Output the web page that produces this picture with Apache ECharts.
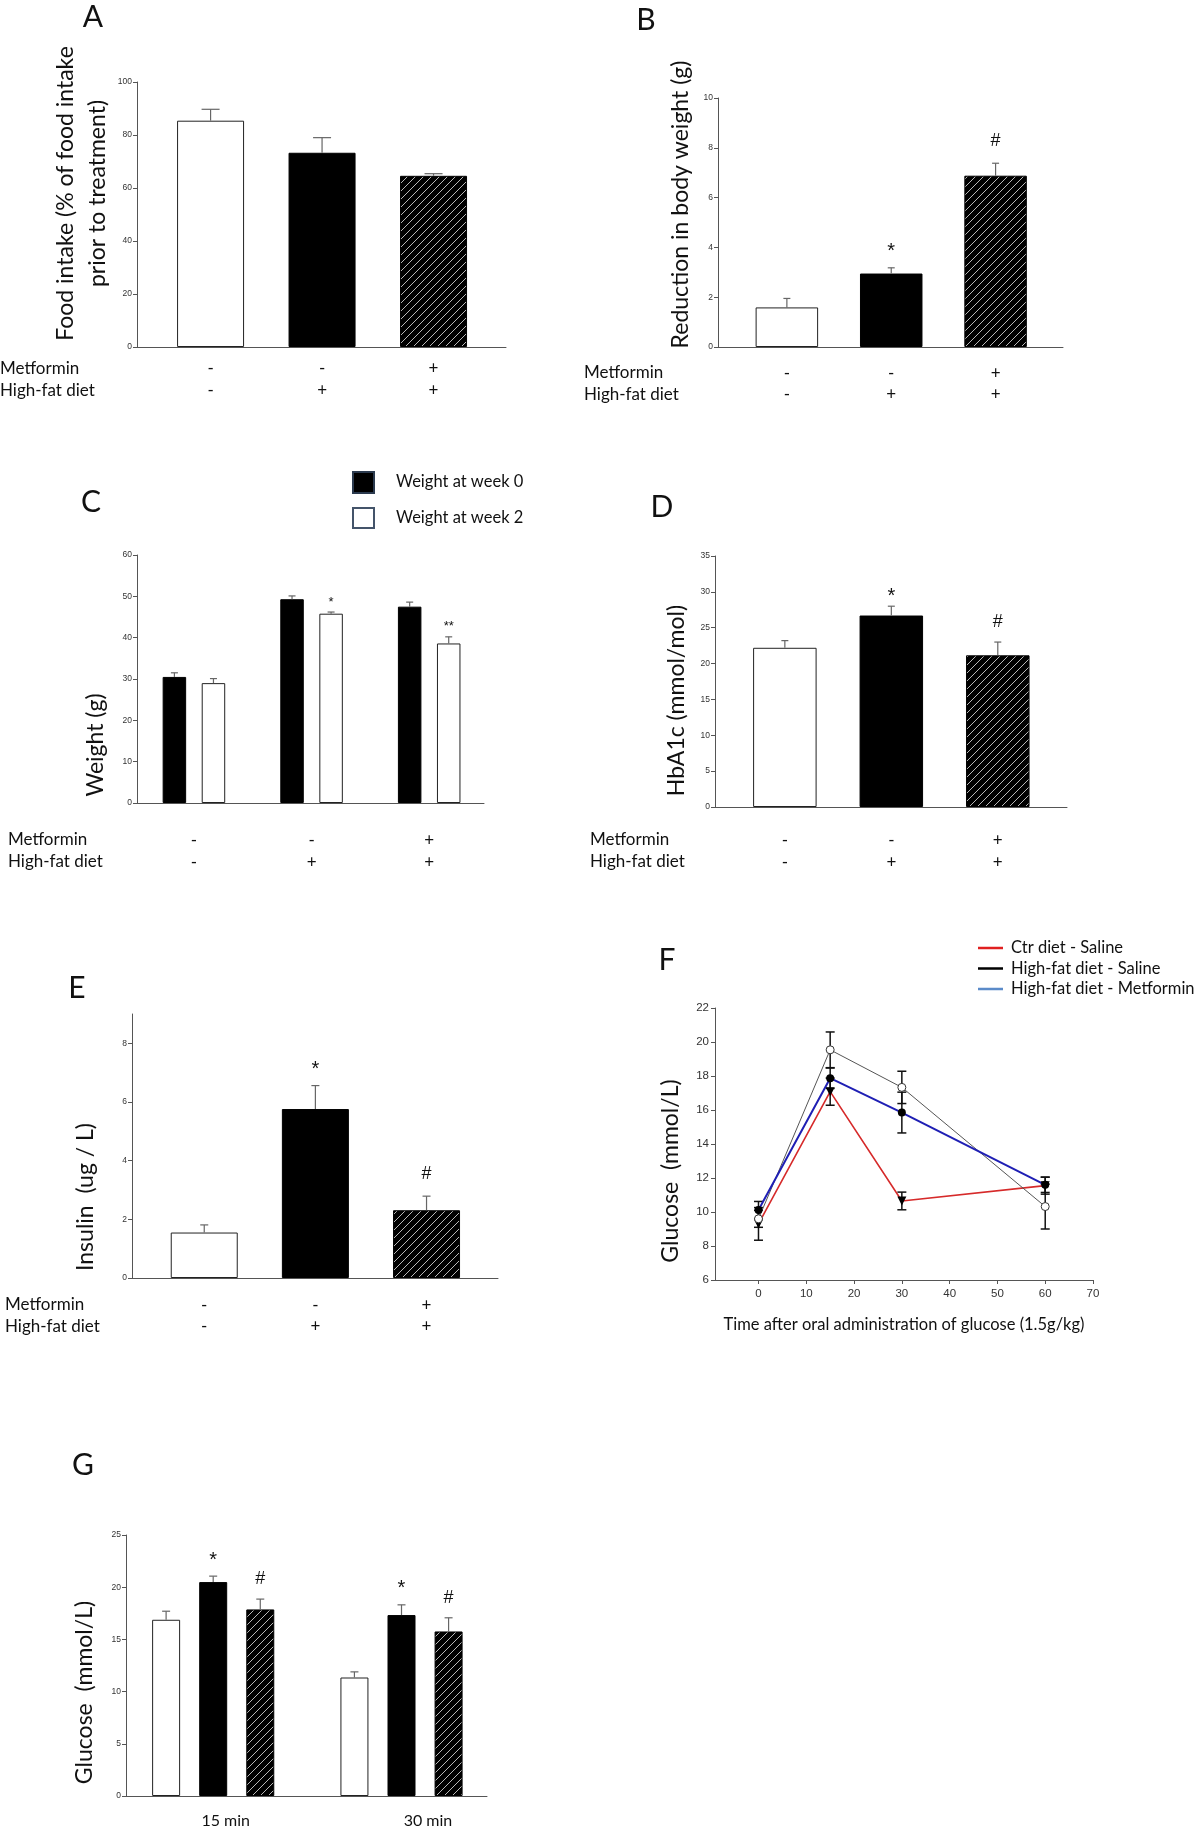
<!DOCTYPE html>
<html><head><meta charset="utf-8">
<script src="https://cdn.jsdelivr.net/npm/echarts@6/dist/echarts.min.js"></script>
<style>html,body{margin:0;padding:0;background:#fff}#c{width:1200px;height:1837px}</style>
</head><body><div id="c"></div><script>
// ---------------- DATA ----------------
const metforminRow = ['-', '-', '+'];
const highFatRow = ['-', '+', '+'];

// A: food intake (% of intake prior to treatment)
const foodIntake = [85.4, 73.3, 64.6];
const foodIntakeErr = [4.3, 5.7, 0.8];

// B: reduction in body weight (g)
const bodyWeightLoss = [1.59, 2.95, 6.88];
const bodyWeightLossErr = [0.36, 0.23, 0.5];
const bodyWeightLossSig = ['', '*', '#'];

// C: weight (g) at week 0 and week 2
const weekLabels = ['Weight at week 0', 'Weight at week 2'];
const weightWeek0 = [30.5, 49.3, 47.5];
const weightWeek0Err = [1.0, 0.8, 1.1];
const weightWeek2 = [29.0, 45.8, 38.6];
const weightWeek2Err = [1.1, 0.4, 1.6];
const weightWeek2Sig = ['', '*', '**'];

// D: HbA1c (mmol/mol)
const hba1c = [22.2, 26.7, 21.15];
const hba1cErr = [1.0, 1.3, 1.85];
const hba1cSig = ['', '*', '#'];

// E: insulin (ug/L)
const insulin = [1.55, 5.76, 2.31];
const insulinErr = [0.26, 0.8, 0.48];
const insulinSig = ['', '*', '#'];

// F: OGTT glucose (mmol/L)
const ogttNames = ['Ctr diet - Saline', 'High-fat diet - Saline', 'High-fat diet - Metformin'];
const ogttTimes = [0, 15, 30, 60];
const ogttCtr = [9.3, 17.08, 10.65, 11.55];
const ogttCtrErr = [0.96, 0.8, 0.52, 0.5];
const ogttHfd = [9.6, 19.54, 17.33, 10.32];
const ogttHfdErr = [0.5, 1.05, 0.95, 1.32];
const ogttHfdMet = [10.12, 17.87, 15.85, 11.6];
const ogttHfdMetErr = [0.5, 0.6, 1.2, 0.45];
const ogttXTicks = [0, 10, 20, 30, 40, 50, 60, 70];

// G: glucose at 15 and 30 min
const gTimes = ['15 min', '30 min'];
const gCtr = [16.88, 11.35];
const gCtrErr = [0.82, 0.54];
const gHfd = [20.49, 17.33];
const gHfdErr = [0.57, 0.98];
const gHfdMet = [17.87, 15.76];
const gHfdMetErr = [0.99, 1.31];
const gHfdSig = ['*', '*'];
const gHfdMetSig = ['#', '#'];

const insulinTicks = [0, 2, 4, 6, 8];

// ---------------- STYLE ----------------
const SANS = 'Lato, "Open Sans", sans-serif';
const ARIAL = '"Liberation Sans", Arial, sans-serif';
const AXIS_COLOR = '#555';
const TEXT = '#111';
const TITLE_SIZE = 23;

function makeHatch() {
  const s = 8;
  const c = document.createElement('canvas');
  c.width = s; c.height = s;
  const g = c.getContext('2d');
  g.fillStyle = '#000'; g.fillRect(0, 0, s, s);
  g.strokeStyle = '#b8b8b8'; g.lineWidth = 1;
  g.beginPath();
  g.moveTo(-1, s + 1); g.lineTo(s + 1, -1);
  g.moveTo(-1, 1); g.lineTo(1, -1);
  g.moveTo(s - 1, s + 1); g.lineTo(s + 1, s - 1);
  g.stroke();
  return c;
}
const WHITE = {color: '#fff', borderColor: '#222', borderWidth: 1};
const BLACK = {color: '#000', borderColor: '#000', borderWidth: 1};
const HATCH = {color: {image: makeHatch(), repeat: 'repeat'}, borderColor: '#000', borderWidth: 1};
const trioStyles = [WHITE, BLACK, HATCH];

const grids = [
  {left: 137, top: 82, width: 369, height: 265},   // A
  {left: 718, top: 98, width: 345, height: 249},   // B
  {left: 137, top: 555, width: 347, height: 248},  // C
  {left: 715, top: 556, width: 352, height: 251},  // D
  {left: 132, top: 1014, width: 366, height: 264}, // E
  {left: 715, top: 1008, width: 378, height: 272}, // F
  {left: 126, top: 1535, width: 361, height: 261}  // G
];

function yAx(gi, min, max, interval, name, gap, shift, extra) {
  const pad = shift > 0 ? [0, 2 * shift, 0, 0] : [0, 0, 0, -2 * shift];
  return Object.assign({
    type: 'value', gridIndex: gi, min: min, max: max, interval: interval,
    name: name, nameLocation: 'middle', nameGap: gap,
    nameTextStyle: {fontFamily: SANS, fontSize: TITLE_SIZE, color: TEXT, padding: pad},
    axisLine: {show: true, onZero: false, lineStyle: {color: AXIS_COLOR, width: 1}},
    axisTick: {show: true, length: 4, lineStyle: {color: AXIS_COLOR}},
    axisLabel: {fontFamily: ARIAL, fontSize: 8.5, color: '#333', margin: 5},
    splitLine: {show: false}
  }, extra || {});
}

const signFormatter = v => {
  const i = Math.round(v) - 1;
  return metforminRow[i] + '\n' + highFatRow[i];
};
function xBars(gi, min, max, margin, labels) {
  return {
    type: 'value', gridIndex: gi, min: min, max: max,
    axisLine: {show: true, onZero: false, lineStyle: {color: AXIS_COLOR, width: 1}},
    axisTick: {show: false}, splitLine: {show: false},
    axisLabel: labels || {customValues: [1, 2, 3], formatter: signFormatter, fontFamily: SANS,
      fontSize: 17, lineHeight: 21.5, color: TEXT, margin: margin}
  };
}

function errSeries(axis, pts, opts) {
  return {
    type: 'custom', xAxisIndex: axis, yAxisIndex: axis, silent: true, z: 5,
    data: pts,
    renderItem: function (params, api) {
      const x = api.value(0), y = api.value(1), e = api.value(2);
      const top = api.coord([x, y + e]);
      const base = opts.both ? api.coord([x, y - e]) : api.coord([x, y]);
      const hw = opts.cap;
      const st = {stroke: opts.color, lineWidth: opts.width};
      const ch = [
        {type: 'line', shape: {x1: top[0], y1: base[1], x2: top[0], y2: top[1]}, style: st},
        {type: 'line', shape: {x1: top[0] - hw, y1: top[1], x2: top[0] + hw, y2: top[1]}, style: st}
      ];
      if (opts.both) ch.push({type: 'line', shape: {x1: base[0] - hw, y1: base[1], x2: base[0] + hw, y2: base[1]}, style: st});
      const sig = opts.sig ? opts.sig[params.dataIndex] : '';
      if (sig) {
        const isStar = sig.indexOf('*') >= 0;
        ch.push({type: 'text', x: top[0], y: top[1] - (isStar ? opts.starGap : opts.hashGap),
          style: {text: sig, fill: TEXT, align: 'center', verticalAlign: 'middle',
            fontFamily: ARIAL, fontSize: isStar ? opts.starSize : opts.hashSize}});
      }
      return {type: 'group', children: ch};
    }
  };
}

const barErr = {color: '#666', width: 1.2, cap: 4, starGap: 16, hashGap: 22, starSize: 20, hashSize: 18};

// C layout (two bars per group)
const cOff = 0.166;
const cX = [], cY = [], cE = [], cS = [], cSig = [];
weightWeek0.forEach((v, i) => {
  cX.push(i + 1 - cOff, i + 1 + cOff);
  cY.push(v, weightWeek2[i]);
  cE.push(weightWeek0Err[i], weightWeek2Err[i]);
  cS.push(BLACK, WHITE);
  cSig.push('', weightWeek2Sig[i]);
});
// G layout (three bars per group)
const gOff = 0.25;
const gX = [], gY = [], gE = [], gS = [], gSig = [];
gTimes.forEach((t, i) => {
  [[gCtr, gCtrErr, ''], [gHfd, gHfdErr, gHfdSig[i]], [gHfdMet, gHfdMetErr, gHfdMetSig[i]]].forEach((s, k) => {
    gX.push(i + 1 + (k - 1) * gOff);
    gY.push(s[0][i]);
    gE.push(s[1][i]);
    gS.push(trioStyles[k]);
    gSig.push(s[2]);
  });
});

function trioBar(axis, vals, width) {
  return {type: 'bar', xAxisIndex: axis, yAxisIndex: axis, barWidth: width, silent: true,
    data: vals.map((v, i) => ({value: [i + 1, v], itemStyle: trioStyles[i]}))};
}
function trioErr(axis, vals, errs, sig, extra) {
  return errSeries(axis, vals.map((v, i) => [i + 1, v, errs[i]]), Object.assign({}, barErr, {sig: sig}, extra || {}));
}

const F_COLORS = ['#d62a2a', '#555', '#1f1fb4'];
const fSeries = [
  {data: ogttCtr, err: ogttCtrErr, line: {color: F_COLORS[0], width: 1.6}, symbol: 'triangle', rot: 180, size: 9,
    item: {color: '#000'}},
  {data: ogttHfd, err: ogttHfdErr, line: {color: F_COLORS[1], width: 1}, symbol: 'circle', rot: 0, size: 8,
    item: {color: '#fff', borderColor: '#333', borderWidth: 1}},
  {data: ogttHfdMet, err: ogttHfdMetErr, line: {color: F_COLORS[2], width: 2}, symbol: 'circle', rot: 0, size: 8,
    item: {color: '#000'}}
];

const series = [
  trioBar(0, foodIntake, 67),
  trioErr(0, foodIntake, foodIntakeErr, null, {cap: 9}),
  trioBar(1, bodyWeightLoss, 62.5),
  trioErr(1, bodyWeightLoss, bodyWeightLossErr, bodyWeightLossSig, {cap: 3.5}),
  {type: 'bar', xAxisIndex: 2, yAxisIndex: 2, barWidth: 23.5, silent: true,
    data: cX.map((x, i) => ({value: [x, cY[i]], itemStyle: cS[i]}))},
  errSeries(2, cX.map((x, i) => [x, cY[i], cE[i]]), Object.assign({}, barErr, {cap: 3.5, sig: cSig, starGap: 10, starSize: 13})),
  trioBar(3, hba1c, 63.5),
  trioErr(3, hba1c, hba1cErr, hba1cSig, {cap: 3.5, starGap: 10, hashGap: 20}),
  trioBar(4, insulin, 67),
  trioErr(4, insulin, insulinErr, insulinSig, {cap: 4}),
  {type: 'bar', xAxisIndex: 6, yAxisIndex: 6, barWidth: 28, silent: true,
    data: gX.map((x, i) => ({value: [x, gY[i]], itemStyle: gS[i]}))},
  errSeries(6, gX.map((x, i) => [x, gY[i], gE[i]]), Object.assign({}, barErr, {cap: 4, sig: gSig, hashGap: 20}))
];
fSeries.forEach((s, k) => {
  series.push(errSeries(5, ogttTimes.map((t, i) => [t, s.data[i], s.err[i]]),
    {color: '#111', width: 1.5, cap: 4.5, both: true}));
});
fSeries.forEach((s, k) => {
  series.push({type: 'line', name: ogttNames[k], xAxisIndex: 5, yAxisIndex: 5, silent: true, z: 6,
    data: ogttTimes.map((t, i) => [t, s.data[i]]),
    symbol: s.symbol, symbolRotate: s.rot, symbolSize: s.size,
    lineStyle: s.line, itemStyle: s.item});
});

const xAxes = [
  xBars(0, 0.34, 3.65, 11),
  xBars(1, 0.34, 3.646, 15.5),
  xBars(2, 0.516, 3.466, 27),
  xBars(3, 0.344, 3.65, 23),
  xBars(4, 0.35, 3.643, 16.5),
  {type: 'value', gridIndex: 5, min: -9.1, max: 70,
    axisLine: {show: true, onZero: false, lineStyle: {color: AXIS_COLOR, width: 1}},
    axisTick: {show: true, customValues: ogttXTicks, length: 4, lineStyle: {color: AXIS_COLOR}},
    axisLabel: {customValues: ogttXTicks, fontFamily: ARIAL, fontSize: 11.5, color: '#333', margin: 8},
    splitLine: {show: false},
    name: 'Time after oral administration of glucose (1.5g/kg)', nameLocation: 'middle', nameGap: 36,
    nameTextStyle: {fontFamily: SANS, fontSize: 16.5, color: TEXT}},
  xBars(6, 0.537, 2.454, 0, {customValues: [1, 2],
    formatter: v => { const i = Math.round(v) - 1; return '{t' + i + '|' + gTimes[i] + '}'; },
    fontFamily: SANS, fontSize: 16, color: TEXT, margin: 17,
    rich: {
      t0: {fontFamily: SANS, fontSize: 16, color: TEXT, padding: [0, 0, 0, 25]},
      t1: {fontFamily: SANS, fontSize: 16, color: TEXT, padding: [0, 0, 0, 53]}
    }})
];

const yAxes = [
  yAx(0, 0, 100, 20, 'Food intake (% of food intake\nprior to treatment)', 13, -21,
    {nameTextStyle: {fontFamily: SANS, fontSize: TITLE_SIZE, lineHeight: 32, color: TEXT, padding: [0, 0, 0, 42]}}),
  yAx(1, 0, 10, 2, 'Reduction in body weight (g)', 26, -18),
  yAx(2, 0, 60, 10, 'Weight (g)', 30, 66),
  yAx(3, 0, 35, 5, 'HbA1c (mmol/mol)', 27, 19),
  yAx(4, 0, 9, null, 'Insulin  (ug / L)', 35, 51,
    {axisTick: {show: true, customValues: insulinTicks, length: 4, lineStyle: {color: AXIS_COLOR}},
     axisLabel: {customValues: insulinTicks, fontFamily: ARIAL, fontSize: 8.5, color: '#333', margin: 5}}),
  yAx(5, 6, 22, 2, 'Glucose  (mmol/L)', 33, 27,
    {axisLabel: {fontFamily: ARIAL, fontSize: 11.5, color: '#333', margin: 6}}),
  yAx(6, 0, 25, 5, 'Glucose  (mmol/L)', 30, 27)
];

function letter(t, x, y) {
  return {type: 'text', x: x, y: y, style: {text: t, fontFamily: SANS, fontSize: 30, fill: TEXT,
    align: 'center', verticalAlign: 'middle'}};
}
function rowLabel(x, y) {
  return {type: 'text', x: x, y: y, style: {text: 'Metformin\nHigh-fat diet', fontFamily: SANS,
    fontSize: 17, lineHeight: 21.5, fill: TEXT, align: 'left', verticalAlign: 'top'}};
}
const graphics = [
  letter('A', 93, 17), letter('B', 646, 20), letter('C', 91, 502), letter('D', 662, 507),
  letter('E', 77, 988), letter('F', 667, 960), letter('G', 83, 1465),
  rowLabel(0, 358), rowLabel(584, 362), rowLabel(8, 829), rowLabel(590, 829), rowLabel(5, 1294),
  {type: 'rect', shape: {x: 353, y: 472, width: 21, height: 21}, style: {fill: '#000', stroke: '#2b3a4e', lineWidth: 2}},
  {type: 'text', x: 396, y: 482, style: {text: weekLabels[0], fontFamily: SANS, fontSize: 16.5, fill: TEXT, verticalAlign: 'middle'}},
  {type: 'rect', shape: {x: 353, y: 508, width: 21, height: 20}, style: {fill: '#fff', stroke: '#44546a', lineWidth: 2}},
  {type: 'text', x: 396, y: 518, style: {text: weekLabels[1], fontFamily: SANS, fontSize: 16.5, fill: TEXT, verticalAlign: 'middle'}}
];

const chart = echarts.init(document.getElementById('c'), null, {renderer: 'canvas'});
chart.setOption({
  animation: false,
  backgroundColor: '#fff',
  grid: grids,
  xAxis: xAxes,
  yAxis: yAxes,
  legend: {
    data: [
      {name: ogttNames[0], itemStyle: {color: '#e02020'}},
      {name: ogttNames[1], itemStyle: {color: '#000', borderWidth: 0}},
      {name: ogttNames[2], itemStyle: {color: '#5b8bc9'}}
    ],
    orient: 'vertical', left: 978, top: 939, icon: 'rect', itemWidth: 25, itemHeight: 2.5, itemGap: 2.5,
    selectedMode: false, padding: 0,
    textStyle: {fontFamily: SANS, fontSize: 16.5, color: TEXT, lineHeight: 18, padding: [0, 0, 0, 3]}
  },
  graphic: graphics,
  series: series
});
</script></body></html>
